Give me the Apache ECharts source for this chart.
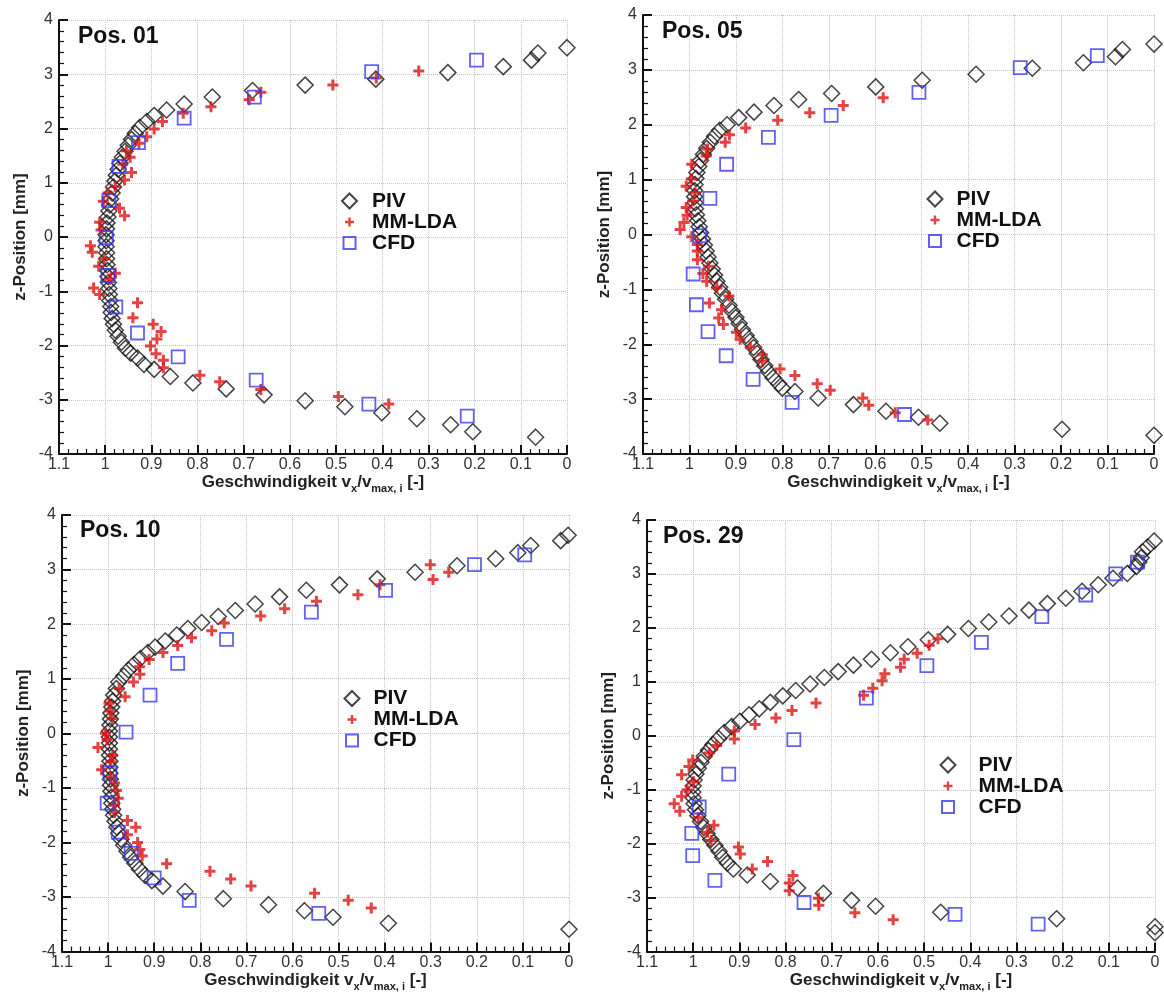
<!DOCTYPE html>
<html>
<head>
<meta charset="utf-8">
<title>Geschwindigkeitsprofile</title>
<script src="https://cdn.jsdelivr.net/npm/echarts@6/dist/echarts.min.js"></script>
<style>
  html, body { margin: 0; padding: 0; background: #fff; }
  #chart { width: 1164px; height: 993px; }
</style>
</head>
<body>
<div id="chart"></div>
<script>
  // values: [v_x/v_max, z in mm]
  var panelTitles = ['Pos. 01', 'Pos. 05', 'Pos. 10', 'Pos. 29'];
  var seriesNames = ['PIV', 'MM-LDA', 'CFD'];

  var piv01 = [
    [0.000, 3.49], [0.063, 3.39], [0.077, 3.26], [0.138, 3.14], [0.258, 3.03], [0.414, 2.91], [0.567, 2.80],
    [0.681, 2.70], [0.768, 2.58], [0.829, 2.45], [0.867, 2.34], [0.894, 2.24], [0.910, 2.13],
    [0.925, 2.02], [0.935, 1.91], [0.943, 1.80], [0.950, 1.69], [0.957, 1.58], [0.963, 1.47], [0.968, 1.36],
    [0.972, 1.25], [0.976, 1.14], [0.979, 1.03], [0.982, 0.92], [0.985, 0.81], [0.988, 0.70], [0.990, 0.59],
    [0.992, 0.48], [0.994, 0.37], [0.996, 0.26], [0.997, 0.15], [0.998, 0.04], [0.998, -0.07], [0.998, -0.18],
    [0.997, -0.29], [0.997, -0.40], [0.996, -0.51], [0.995, -0.62], [0.994, -0.73], [0.993, -0.84], [0.992, -0.95],
    [0.991, -1.06], [0.990, -1.17], [0.988, -1.28], [0.987, -1.39], [0.985, -1.50], [0.982, -1.61], [0.978, -1.72],
    [0.972, -1.83], [0.965, -1.94], [0.956, -2.05], [0.945, -2.14],
    [0.930, -2.23], [0.916, -2.35], [0.894, -2.44], [0.859, -2.57], [0.810, -2.69], [0.738, -2.80], [0.656, -2.91],
    [0.567, -3.02], [0.481, -3.13], [0.401, -3.24], [0.325, -3.35], [0.252, -3.46], [0.204, -3.59], [0.068, -3.69]
  ];
  var lda01 = [
    [0.321, 3.06], [0.413, 2.93], [0.507, 2.80], [0.663, 2.67], [0.688, 2.53], [0.771, 2.40], [0.831, 2.28],
    [0.876, 2.13], [0.894, 1.99], [0.910, 1.85], [0.927, 1.73], [0.954, 1.59], [0.946, 1.47], [0.962, 1.34],
    [0.943, 1.19], [0.958, 1.05], [0.978, 0.93], [0.994, 0.81], [1.004, 0.66], [0.969, 0.53], [0.958, 0.39],
    [1.012, 0.27], [1.009, 0.13], [1.032, -0.16], [1.028, -0.28], [1.002, -0.40], [1.014, -0.54], [0.978, -0.67],
    [0.990, -0.78], [1.025, -0.94], [1.012, -1.06], [0.930, -1.21], [0.940, -1.49], [0.896, -1.61], [0.879, -1.74],
    [0.888, -1.88], [0.902, -2.01], [0.890, -2.15], [0.874, -2.27], [0.874, -2.41], [0.795, -2.55], [0.752, -2.67],
    [0.663, -2.81], [0.495, -2.94], [0.386, -3.08]
  ];
  var cfd01 = [
    [0.196, 3.26], [0.423, 3.05], [0.677, 2.58], [0.829, 2.19], [0.928, 1.74], [0.970, 1.30], [0.992, 0.67],
    [0.998, -0.01], [0.994, -0.71], [0.977, -1.29], [0.930, -1.77], [0.842, -2.21], [0.673, -2.64], [0.429, -3.08],
    [0.216, -3.30]
  ];

  var piv05 = [
    [0.000, 3.47], [0.068, 3.37], [0.083, 3.24], [0.152, 3.13], [0.262, 3.03], [0.383, 2.92], [0.499, 2.81],
    [0.599, 2.69], [0.694, 2.57], [0.765, 2.46], [0.818, 2.35], [0.861, 2.23], [0.894, 2.13], [0.919, 2.00],
    [0.935, 1.90], [0.946, 1.79], [0.955, 1.68], [0.963, 1.57], [0.970, 1.46], [0.976, 1.35], [0.980, 1.24],
    [0.984, 1.13], [0.986, 1.02], [0.988, 0.91], [0.989, 0.80], [0.989, 0.69], [0.988, 0.58], [0.987, 0.47],
    [0.985, 0.36], [0.982, 0.25], [0.979, 0.14], [0.976, 0.03], [0.972, -0.08], [0.968, -0.19], [0.964, -0.30],
    [0.960, -0.41], [0.956, -0.52], [0.951, -0.63], [0.946, -0.74], [0.941, -0.85], [0.935, -0.96], [0.929, -1.07],
    [0.922, -1.18], [0.915, -1.29], [0.908, -1.40], [0.900, -1.51], [0.893, -1.62], [0.886, -1.73], [0.878, -1.84],
    [0.870, -1.95], [0.862, -2.06], [0.854, -2.17], [0.846, -2.28], [0.838, -2.39], [0.830, -2.50], [0.820, -2.61],
    [0.808, -2.72], [0.800, -2.80], [0.773, -2.86], [0.723, -2.98], [0.647, -3.10], [0.577, -3.22], [0.507, -3.33],
    [0.461, -3.44], [0.198, -3.55], [0.000, -3.66]
  ];
  var lda05 = [
    [0.583, 2.49], [0.669, 2.35], [0.741, 2.22], [0.810, 2.08], [0.879, 1.94], [0.914, 1.82], [0.923, 1.68],
    [0.961, 1.56], [0.964, 1.43], [0.995, 1.28], [0.996, 1.01], [1.007, 0.88], [0.988, 0.76], [0.993, 0.61],
    [1.007, 0.49], [1.005, 0.35], [1.012, 0.22], [1.020, 0.09], [0.995, -0.04], [0.983, -0.18], [0.983, -0.30],
    [0.983, -0.46], [0.959, -0.58], [0.971, -0.71], [0.963, -0.85], [0.941, -0.97], [0.915, -1.12], [0.957, -1.25],
    [0.931, -1.37], [0.937, -1.52], [0.927, -1.64], [0.899, -1.78], [0.891, -1.91], [0.869, -2.05], [0.843, -2.19],
    [0.843, -2.31], [0.805, -2.45], [0.773, -2.57], [0.725, -2.72], [0.697, -2.84], [0.627, -2.98], [0.614, -3.11],
    [0.557, -3.25], [0.487, -3.38]
  ];
  var cfd05 = [
    [0.122, 3.26], [0.288, 3.04], [0.506, 2.59], [0.695, 2.17], [0.830, 1.77], [0.920, 1.28], [0.956, 0.66],
    [0.978, -0.02], [0.992, -0.72], [0.985, -1.28], [0.960, -1.77], [0.921, -2.21], [0.863, -2.64], [0.779, -3.06],
    [0.537, -3.28]
  ];

  var piv10 = [
    [0.002, 3.63], [0.018, 3.53], [0.083, 3.44], [0.111, 3.31], [0.159, 3.20], [0.243, 3.07], [0.334, 2.95],
    [0.416, 2.83], [0.498, 2.72], [0.570, 2.62], [0.628, 2.50], [0.681, 2.37], [0.724, 2.25], [0.761, 2.14],
    [0.797, 2.03], [0.827, 1.92], [0.851, 1.80], [0.876, 1.69], [0.898, 1.58], [0.914, 1.48], [0.930, 1.37],
    [0.944, 1.26], [0.956, 1.16], [0.966, 1.05], [0.977, 0.94], [0.982, 0.82], [0.988, 0.70], [0.990, 0.59],
    [0.992, 0.48], [0.994, 0.37], [0.995, 0.26], [0.996, 0.15], [0.997, 0.04], [0.997, -0.07], [0.997, -0.18],
    [0.997, -0.29], [0.997, -0.40], [0.996, -0.51], [0.996, -0.62], [0.996, -0.73], [0.995, -0.84], [0.995, -0.95],
    [0.994, -1.06], [0.993, -1.17], [0.992, -1.28], [0.990, -1.39], [0.988, -1.50], [0.985, -1.61], [0.981, -1.72],
    [0.977, -1.83], [0.972, -1.94], [0.966, -2.05], [0.959, -2.16], [0.951, -2.27], [0.942, -2.38], [0.932, -2.49],
    [0.920, -2.60], [0.905, -2.70], [0.881, -2.80], [0.833, -2.90], [0.750, -3.03], [0.652, -3.14], [0.574, -3.25],
    [0.512, -3.37], [0.392, -3.48], [0.000, -3.59]
  ];
  var lda10 = [
    [0.301, 3.09], [0.261, 2.95], [0.295, 2.82], [0.410, 2.72], [0.458, 2.54], [0.548, 2.42], [0.617, 2.28],
    [0.669, 2.15], [0.748, 2.02], [0.775, 1.88], [0.819, 1.75], [0.849, 1.61], [0.881, 1.48], [0.911, 1.35],
    [0.932, 1.22], [0.931, 1.08], [0.945, 0.94], [0.976, 0.82], [0.963, 0.67], [0.998, 0.55], [0.996, 0.41],
    [0.991, 0.27], [1.006, 0.00], [1.002, -0.12], [1.022, -0.26], [0.990, -0.40], [0.994, -0.52], [1.014, -0.67],
    [0.994, -0.79], [0.986, -0.91], [0.982, -1.05], [0.978, -1.19], [0.986, -1.32], [0.986, -1.45], [0.958, -1.60],
    [0.940, -1.72], [0.958, -1.86], [0.936, -2.00], [0.931, -2.13], [0.926, -2.25], [0.873, -2.39], [0.779, -2.53],
    [0.734, -2.67], [0.690, -2.80], [0.552, -2.93], [0.479, -3.06], [0.429, -3.20]
  ];
  var cfd10 = [
    [0.096, 3.27], [0.205, 3.09], [0.398, 2.62], [0.559, 2.22], [0.743, 1.72], [0.849, 1.28], [0.909, 0.70],
    [0.961, 0.02], [0.996, -0.73], [1.002, -1.28], [0.978, -1.81], [0.950, -2.20], [0.900, -2.65], [0.824, -3.06],
    [0.543, -3.30]
  ];

  var piv29 = [
    [0.002, 3.61], [0.016, 3.50], [0.027, 3.41], [0.030, 3.30], [0.035, 3.22], [0.040, 3.14], [0.060, 3.01],
    [0.091, 2.92], [0.123, 2.80], [0.158, 2.68], [0.193, 2.55], [0.233, 2.45], [0.273, 2.33], [0.316, 2.22],
    [0.360, 2.11], [0.404, 1.99], [0.449, 1.88], [0.491, 1.78], [0.535, 1.65], [0.573, 1.54], [0.614, 1.42],
    [0.653, 1.31], [0.686, 1.19], [0.716, 1.08], [0.747, 0.96], [0.778, 0.84], [0.806, 0.74], [0.833, 0.62],
    [0.857, 0.50], [0.879, 0.39], [0.899, 0.27], [0.917, 0.17], [0.933, 0.06], [0.945, -0.05], [0.957, -0.16],
    [0.967, -0.27], [0.976, -0.38], [0.983, -0.49], [0.989, -0.60], [0.994, -0.71], [0.998, -0.82], [1.000, -0.93],
    [1.001, -1.04], [1.000, -1.15], [0.998, -1.26], [0.995, -1.37], [0.990, -1.48], [0.984, -1.59], [0.977, -1.70],
    [0.970, -1.81], [0.962, -1.92], [0.953, -2.03], [0.944, -2.14], [0.936, -2.25], [0.926, -2.36], [0.913, -2.47],
    [0.883, -2.58], [0.833, -2.70], [0.774, -2.82], [0.718, -2.92], [0.657, -3.05], [0.605, -3.16], [0.464, -3.27],
    [0.213, -3.39], [0.000, -3.54], [0.000, -3.65]
  ];
  var lda29 = [
    [0.470, 1.80], [0.489, 1.68], [0.515, 1.53], [0.543, 1.42], [0.551, 1.27], [0.585, 1.15], [0.591, 1.02],
    [0.611, 0.88], [0.631, 0.75], [0.734, 0.61], [0.786, 0.47], [0.821, 0.33], [0.866, 0.21], [0.911, 0.09],
    [0.911, -0.06], [0.949, -0.18], [0.965, -0.32], [1.001, -0.45], [1.009, -0.57], [1.025, -0.72], [0.999, -0.85],
    [1.013, -1.00], [1.025, -1.12], [1.041, -1.26], [1.029, -1.40], [0.989, -1.52], [0.955, -1.66], [0.969, -1.79],
    [0.961, -1.94], [0.902, -2.06], [0.898, -2.19], [0.839, -2.33], [0.872, -2.47], [0.784, -2.59], [0.792, -2.73],
    [0.792, -2.87], [0.729, -3.01], [0.728, -3.14], [0.650, -3.28], [0.567, -3.41]
  ];
  var cfd29 = [
    [0.038, 3.22], [0.085, 3.00], [0.150, 2.61], [0.245, 2.21], [0.376, 1.73], [0.494, 1.30], [0.625, 0.70],
    [0.782, -0.07], [0.923, -0.71], [0.987, -1.32], [1.003, -1.81], [1.001, -2.22], [0.953, -2.68], [0.760, -3.09],
    [0.433, -3.31], [0.253, -3.49]
  ];

  var pivData = [piv01, piv05, piv10, piv29];
  var ldaData = [lda01, lda05, lda10, lda29];
  var cfdData = [cfd01, cfd05, cfd10, cfd29];

  // layout
  var font = 'Liberation Sans, Arial, Helvetica, sans-serif';
  var grids = [
    {left: 59, top: 20, width: 508, height: 434},
    {left: 643, top: 15, width: 511, height: 439},
    {left: 62, top: 515, width: 507, height: 438},
    {left: 647, top: 520, width: 508, height: 435}
  ];
  var titlePos = [[78, 25], [662, 20], [80, 519], [663, 525]];
  var legendPos = [[341, 190.5, 10], [926.5, 188.5, 9], [343.5, 688, 9], [939.5, 754.5, 18]];

  var plusPath = 'path://M4,0H7V4H11V7H7V11H4V7H0V4H4Z';
  // legend icons sit in a 15x15 box, the leading moves keep that box so the mark stays small
  var plusIcon = 'path://M0,0M15,15M6.3,3H8.7V6.3H12V8.7H8.7V12H6.3V8.7H3V6.3H6.3Z';
  var rectIcon = 'path://M0,0M15,15M1.5,1.5H13.5V13.5H1.5Z';

  var chart = echarts.init(document.getElementById('chart'));

  var option = {
    backgroundColor: '#fff',
    animation: false,
    title: [],
    legend: [],
    grid: [],
    xAxis: [],
    yAxis: [],
    series: []
  };

  grids.forEach(function (g, i) {
    option.grid.push({left: g.left, top: g.top, width: g.width, height: g.height, containLabel: false});

    option.title.push({
      text: panelTitles[i],
      left: titlePos[i][0],
      top: titlePos[i][1],
      padding: 0,
      textStyle: {fontFamily: font, fontSize: 23, fontWeight: 'bold', color: '#111'}
    });

    option.legend.push({
      data: [
        {name: seriesNames[0]},
        {name: seriesNames[1], icon: plusIcon},
        {name: seriesNames[2], icon: rectIcon}
      ],
      orient: 'vertical',
      left: legendPos[i][0],
      top: legendPos[i][1],
      padding: 0,
      itemGap: 0,
      itemWidth: 15,
      itemHeight: 15,
      selectedMode: false,
      textStyle: {
        fontFamily: font, fontSize: 21, fontWeight: 'bold', color: '#111',
        lineHeight: 18, padding: [0, 0, 0, legendPos[i][2]]
      }
    });

    option.xAxis.push({
      gridIndex: i,
      type: 'value',
      min: 0,
      max: 1.1,
      interval: 0.1,
      inverse: true,
      name: '{a|Geschwindigkeit v}{s|x}{a|/v}{s|max, i}{a| [-]}',
      nameLocation: 'middle',
      nameGap: 15,
      nameTextStyle: {
        rich: {
          a: {fontFamily: font, fontSize: 17, fontWeight: 'bold', color: '#222', lineHeight: 24, verticalAlign: 'middle'},
          s: {fontFamily: font, fontSize: 11, fontWeight: 'bold', color: '#222', lineHeight: 24, verticalAlign: 'bottom'}
        }
      },
      axisLine: {onZero: false, lineStyle: {color: '#111', width: 2}},
      axisTick: {inside: true, length: 9, lineStyle: {color: '#111', width: 2}},
      minorTick: {show: true, splitNumber: 5, length: 5, lineStyle: {color: '#111', width: 1.2}},
      splitLine: {show: true, lineStyle: {color: '#c4c4c4', type: 'dotted', width: 1}},
      axisLabel: {
        fontFamily: font, fontSize: 16, color: '#333', margin: 3,
        formatter: function (v) { return String(+v.toFixed(1)); }
      }
    });

    option.yAxis.push({
      gridIndex: i,
      type: 'value',
      min: -4,
      max: 4,
      interval: 1,
      name: 'z-Position [mm]',
      nameLocation: 'middle',
      nameGap: 30,
      nameTextStyle: {fontFamily: font, fontSize: 17, fontWeight: 'bold', color: '#222'},
      axisLine: {onZero: false, lineStyle: {color: '#111', width: 2}},
      axisTick: {inside: true, length: 9, lineStyle: {color: '#111', width: 2}},
      minorTick: {show: true, splitNumber: 5, length: 5, lineStyle: {color: '#111', width: 1.2}},
      splitLine: {show: true, lineStyle: {color: '#c4c4c4', type: 'dotted', width: 1}},
      axisLabel: {fontFamily: font, fontSize: 16, color: '#333', margin: 6}
    });

    option.series.push({
      name: 'PIV',
      type: 'scatter',
      xAxisIndex: i,
      yAxisIndex: i,
      symbol: 'diamond',
      symbolSize: 16,
      itemStyle: {color: 'rgba(255,255,255,0)', borderColor: '#151515', borderWidth: 1.5},
      data: pivData[i]
    });
    option.series.push({
      name: 'MM-LDA',
      type: 'scatter',
      xAxisIndex: i,
      yAxisIndex: i,
      symbol: plusPath,
      symbolSize: 11,
      itemStyle: {color: '#dd1414'},
      data: ldaData[i]
    });
    option.series.push({
      name: 'CFD',
      type: 'scatter',
      xAxisIndex: i,
      yAxisIndex: i,
      symbol: 'rect',
      symbolSize: 13,
      itemStyle: {color: 'rgba(255,255,255,0)', borderColor: '#3b3bea', borderWidth: 1.8},
      data: cfdData[i]
    });
  });

  chart.setOption(option);
</script>
</body>
</html>
